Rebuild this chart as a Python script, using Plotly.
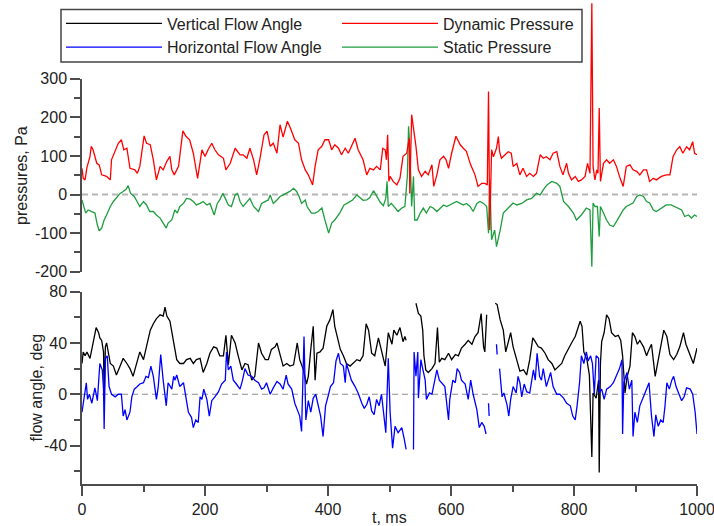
import plotly.graph_objects as go

# ---------------- data ----------------
t_dyn = [0, 2, 5, 8, 13, 15, 18, 21, 24, 28,
         32, 40, 46, 48, 54, 59, 64, 68, 73, 78,
         86, 90, 94, 101, 105, 111, 116, 121, 127, 132,
         138, 143, 146, 150, 157, 164, 169, 175, 181, 188,
         195, 200, 205, 211, 216, 222, 230, 234, 241, 249,
         257, 262, 268, 273, 279, 284, 289, 296, 301, 306,
         311, 317, 322, 327, 334, 339, 346, 352, 357, 363,
         368, 375, 379, 384, 390, 395, 401, 406, 411, 417,
         422, 428, 433, 444, 449, 452, 457, 463, 468, 474,
         479, 485, 489, 493, 495, 497, 499, 501, 506, 512,
         517, 522, 528, 532, 533, 536, 539, 543, 547, 552,
         558, 563, 569, 572, 577, 582, 588, 592, 596, 601,
         608, 615, 620, 625, 632, 639, 644, 650, 655, 659,
         661, 663, 666, 669, 672, 674, 677, 679, 682, 688,
         693, 698, 701, 707, 712, 717, 723, 728, 734, 739,
         745, 750, 755, 761, 766, 772, 777, 782, 788, 791,
         796, 802, 807, 812, 818, 822, 826, 829, 831, 834,
         837, 839, 841, 843, 848, 853, 858, 864, 869, 875,
         880, 885, 891, 896, 902, 907, 913, 918, 923, 929,
         934, 942, 950, 956, 961, 967, 972, 977, 983, 988,
         993, 996, 1000]
p_dyn = [68, 42, 38, 70, 99, 125, 116, 99, 81, 77,
         51, 47, 38, 90, 116, 133, 142, 116, 120, 68,
         64, 55, 73, 152, 133, 129, 90, 38, 73, 64,
         86, 99, 64, 51, 73, 165, 151, 142, 107, 42,
         116, 99, 116, 133, 116, 103, 94, 64, 81, 120,
         103, 103, 94, 120, 90, 51, 90, 155, 164, 125,
         133, 107, 181, 149, 190, 172, 142, 133, 90, 64,
         51, 25, 73, 116, 125, 142, 142, 116, 129, 120,
         103, 120, 107, 146, 116, 107, 90, 51, 68, 64,
         73, 64, 120, 116, 90, 155, 34, 47, 34, 25,
         42, 99, 107, 146, 3, 207, 177, 125, 64, 47,
         60, 51, 77, 21, 51, 90, 99, 90, 68, 107,
         151, 129, 120, 112, 77, 51, 21, 29, 29, 25,
         267, -92, 116, 98, 111, 120, 150, 111, 94, 103,
         111, 107, 73, 81, 51, 68, 47, 55, 47, 55,
         103, 94, 98, 90, 107, 111, 73, 51, 81, 55,
         38, 47, 34, 38, 47, 81, 55, 496, 73, 38,
         64, 55, 224, 34, 81, 90, 81, 90, 73, 42,
         21, 73, 77, 64, 60, 51, 64, 64, 34, 42,
         38, 47, 51, 51, 98, 116, 124, 107, 124, 116,
         137, 107, 103]

t_sta = [0, 3, 6, 10, 16, 21, 25, 28, 32, 36,
         40, 46, 51, 56, 62, 67, 72, 75, 79, 85,
         90, 94, 100, 105, 110, 116, 121, 127, 132, 137,
         140, 146, 151, 155, 159, 165, 170, 176, 181, 186,
         192, 197, 203, 208, 215, 220, 224, 229, 233, 238,
         243, 249, 253, 257, 262, 268, 273, 279, 287, 292,
         298, 303, 306, 311, 317, 322, 327, 333, 338, 344,
         349, 353, 357, 363, 366, 373, 379, 384, 390, 395,
         401, 406, 411, 419, 426, 433, 440, 447, 452, 457,
         463, 468, 474, 479, 485, 490, 494, 496, 498, 503,
         509, 514, 520, 525, 529, 531, 533, 536, 539, 541,
         545, 550, 555, 560, 566, 571, 577, 582, 588, 593,
         598, 604, 609, 615, 620, 625, 631, 636, 642, 647,
         653, 658, 661, 663, 666, 671, 674, 680, 685, 693,
         701, 707, 715, 723, 731, 739, 745, 750, 756, 764,
         772, 777, 783, 791, 799, 804, 812, 820, 826, 829,
         831, 834, 838, 841, 843, 848, 853, 858, 864, 869,
         875, 880, 885, 891, 896, 902, 907, 913, 918, 923,
         929, 934, 942, 950, 958, 967, 975, 980, 986, 991,
         996, 1000]
p_sta = [-14, -35, -48, -40, -44, -48, -79, -94, -87, -66,
         -53, -31, -18, -7, 3, 8, 14, 23, 3, -5,
         -18, -31, -18, -27, -44, -44, -53, -61, -74, -87,
         -74, -66, -40, -48, -31, -23, -10, -12, -18, -27,
         -23, -18, -27, -23, -53, -23, -14, 3, -10, -27,
         -31, -1, 3, -18, -31, -18, -10, -31, -44, -23,
         -18, -14, -1, -23, -14, -5, -1, 3, 8, 16,
         8, -5, -23, -14, -31, -48, -48, -44, -35, -66,
         -100, -74, -66, -48, -27, -21, -14, -1, -8, -15,
         -14, -8, 10, -5, -20, -29, -10, 34, -31, -23,
         -35, -44, -35, -31, 47, 177, 125, -31, 47, -66,
         -66, -48, -35, -48, -31, -35, -44, -35, -27, -31,
         -27, -23, -18, -23, -27, -23, -31, -44, -23, -18,
         -23, -31, -100, 38, -117, -92, -135, -92, -48, -35,
         -22, -27, -23, -14, -10, 3, -1, 12, 25, 34,
         29, 21, -18, -31, -48, -66, -53, -35, -40, -187,
         -22, -31, -31, -109, -31, -48, -66, -79, -83, -70,
         -53, -40, -31, -27, -22, -5, -1, -5, -18, -22,
         -40, -44, -35, -27, -27, -35, -40, -57, -53, -61,
         -53, -57]

t_ver = [0, 2, 5, 8, 13, 18, 23, 27, 29, 32,
         35, 36, 38, 40, 43, 46, 51, 56, 62, 67,
         73, 78, 83, 89, 94, 100, 105, 111, 116, 121,
         127, 132, 135, 138, 143, 149, 154, 159, 165, 170,
         176, 181, 186, 192, 197, 203, 208, 214, 219, 224,
         230, 234, 238, 243, 249, 254, 260, 265, 270, 276,
         281, 287, 292, 298, 303, 308, 314, 317, 322, 327,
         333, 338, 344, 350, 354, 360, 365, 368, 372, 376,
         379, 382, 387, 392, 398, 403, 408, 411, 415, 420,
         425, 430, 436, 441, 447, 452, 457, 462, 466, 471,
         476, 482, 487, 493, 498, 504, 507, 512, 517, 522,
         525, 527, 535, 543, 547, 551, 554, 556, 559, 563,
         569, 574, 578, 581, 585, 590, 596, 601, 607, 612,
         617, 623, 628, 634, 639, 644, 649, 653, 655, 658,
         665, 672, 675, 680, 685, 689, 693, 697, 701, 707,
         712, 718, 723, 728, 733, 737, 742, 747, 753, 758,
         764, 769, 775, 780, 785, 791, 796, 802, 807, 810,
         813, 816, 821, 825, 829, 831, 836, 840, 841, 843,
         845, 849, 853, 857, 861, 867, 872, 876, 879, 883,
         886, 891, 895, 899, 903, 907, 913, 918, 922, 926,
         932, 937, 943, 946, 951, 956, 962, 967, 972, 978,
         982, 989, 994, 998, 1000]
a_ver = [24, 33, 30, 33, 28, 41, 52, 48, 44, 42,
         33, -3, 37, 40, 33, 24, 22, 15, 22, 28,
         24, 20, 14, 24, 33, 27, 37, 50, 55, 59,
         62, 61, 68, 61, 57, 42, 27, 24, 24, 27,
         28, 24, 27, 28, 17, 24, 32, 37, 36, 30,
         30, 46, 23, 46, 40, 30, 19, 24, 23, 11,
         14, 40, 32, 27, 27, 35, 37, 40, 30, 22,
         24, 22, 23, 40, 27, 19, 8, 14, 35, 53,
         11, 32, 33, 36, 53, 58, 66, 53, 45, 35,
         30, 24, 22, 24, 27, 26, 30, 55, 50, 32,
         30, 44, 35, 22, 48, 39, 50, 46, 52, 41,
         45, 42, None, 71, 63, 61, 50, 30, 19, 17,
         20, 24, 52, 25, 28, 27, 32, 27, 31, 30,
         36, 39, 42, 39, 45, 48, 63, 37, 33, 62,
         None, 71, 70, 58, 50, 33, 40, 48, 37, 27,
         18, 19, 15, 27, 44, 41, 37, 36, 32, 27,
         24, 19, 22, 24, 30, 36, 40, 45, 53, 57,
         53, 33, 27, 15, -49, 1, -3, 11, -61, 24,
         41, 48, 62, 59, 48, 45, 46, 42, 30, 1,
         13, 22, 48, 45, 39, 42, 37, 30, 35, 39,
         14, 27, 41, 50, 45, 31, 27, 31, 37, 48,
         39, 30, 24, 32, 36]

t_hor = [0, 2, 5, 7, 9, 12, 16, 18, 21, 25,
         29, 33, 35, 36, 38, 41, 44, 48, 54, 59,
         64, 67, 70, 73, 78, 81, 85, 90, 94, 100,
         104, 108, 112, 116, 121, 124, 128, 132, 137, 140,
         146, 149, 151, 154, 159, 165, 170, 173, 178, 181,
         185, 189, 192, 195, 198, 203, 207, 211, 216, 222,
         227, 233, 235, 238, 242, 246, 251, 257, 261, 265,
         270, 276, 281, 287, 292, 296, 300, 306, 311, 317,
         322, 327, 332, 335, 341, 346, 350, 354, 357, 361,
         364, 368, 372, 376, 380, 384, 388, 392, 396, 401,
         404, 409, 413, 417, 420, 425, 428, 430, 435, 438,
         444, 449, 455, 459, 463, 467, 471, 475, 479, 483,
         487, 491, 494, 498, 501, 505, 509, 514, 520, 524,
         527, 533, 539, 540, 543, 546, 547, 551, 554, 558,
         560, 565, 569, 573, 577, 581, 585, 590, 596, 598,
         603, 607, 610, 614, 617, 623, 628, 632, 636, 642,
         646, 650, 654, 657, 659, 661, 662, 668, 674, 675,
         677, 679, 683, 686, 691, 694, 697, 701, 706, 709,
         712, 715, 719, 723, 728, 734, 737, 740, 744, 747,
         750, 755, 758, 762, 766, 772, 777, 783, 788, 794,
         798, 802, 805, 809, 812, 816, 820, 823, 827, 830,
         833, 836, 840, 841, 845, 849, 853, 859, 864, 869,
         874, 878, 879, 881, 886, 890, 894, 896, 899, 903,
         907, 913, 918, 922, 926, 930, 933, 937, 941, 945,
         948, 951, 955, 959, 962, 966, 970, 975, 979, 983,
         989, 993, 997, 1000]
a_hor = [-14, -7, 1, 9, -4, 0, -7, -2, 5, -5,
         24, 19, 4, -27, 28, 30, 6, 0, -2, 0,
         0, -17, -12, -20, -14, -2, 4, 6, 8, 9,
         14, 13, 22, 14, -4, 6, 31, 11, -9, 9,
         4, 14, 11, 15, 6, 9, -7, -14, -18, -26,
         -20, -22, -2, -4, 4, -4, -17, -5, -2, 2,
         8, 11, 33, 19, 22, 11, 8, 4, 11, 20,
         15, 14, 11, 9, 4, 5, 9, 0, 5, 10,
         8, 4, 15, 8, 4, -7, -12, -17, -29, 45,
         -20, -5, -14, -3, 0, -9, -17, -33, -9, 0,
         6, 9, 26, 32, 24, 22, 9, 24, 17, 11,
         6, 1, -7, -11, -8, -2, -13, -16, -4, -9,
         0, -17, -30, 28, -14, -42, -25, -30, -26, -35,
         -43, None, -43, 33, 14, 33, -3, 27, 20, 11,
         -4, 1, 0, 11, 19, 11, 9, 6, -20, -4,
         11, 9, 20, 17, 11, 8, -4, 11, 0, -12,
         -26, -22, -25, -31, None, -7, -17, None, 39, 31,
         None, 20, -2, 1, -8, -17, -4, 6, 1, 14,
         9, -2, 8, 2, 1, 19, 11, 32, 14, 11,
         20, 6, 10, 17, 6, 0, 0, -3, -7, -9,
         -17, -20, -9, 9, 30, 24, 33, 26, 30, 24,
         0, 30, 28, 1, 4, -4, 4, 6, 9, 14,
         20, 27, -31, 9, 17, 4, 11, -33, -14, -22,
         -9, -2, 4, 9, -17, -33, -16, -25, -20, -22,
         -9, 9, 4, 11, 14, 6, 1, -5, -2, 5,
         4, 0, -14, -31]

p_tickvals = [300, 200, 100, 0, -100, -200]
p_ticktext = ["300", "200", "100", "0", "-100", "-200"]
a_tickvals = [80, 40, 0, -40]
a_ticktext = ["80", "40", "0", "-40"]
t_tickvals = [0, 200, 400, 600, 800, 1000]
t_ticktext = ["0", "200", "400", "600", "800", "1000"]

for a, b in [(t_dyn, p_dyn), (t_sta, p_sta), (t_ver, a_ver), (t_hor, a_hor)]:
    assert len(a) == len(b), (len(a), len(b))

# ---------------- layout geometry ----------------
W, H = 714, 526
ML, MR, MT, MB = 82, 17, 0, 42
PW, PH = W - ML - MR, H - MT - MB


def pxx(p):
    return (p - ML) / PW


def pyy(p):
    return (MT + PH - p) / PH


top_dom = [pyy(271.7), pyy(78.8)]
bot_dom = [0, pyy(291.7)]
p_range = [-200, 300]
a_range = [-70, 80]
# extended (invisible) axis with the same scale, so spikes can run above the panel
p_ext_top = p_range[0] + (p_range[1] - p_range[0]) * (1 - top_dom[0]) / (top_dom[1] - top_dom[0])

FONT = "Liberation Sans, Arial, sans-serif"
AX = "#4d4d4d"
TXT = "#222222"

fig = go.Figure()
fig.add_trace(go.Scatter(x=t_ver, y=a_ver, mode="lines", name="Vertical Flow Angle",
                         line=dict(color="#000000", width=1.3), xaxis="x", yaxis="y",
                         legend="legend", legendrank=1))
fig.add_trace(go.Scatter(x=t_hor, y=a_hor, mode="lines", name="Horizontal Flow Angle",
                         line=dict(color="#0000ff", width=1.3), xaxis="x", yaxis="y",
                         legend="legend", legendrank=2))
fig.add_trace(go.Scatter(x=t_sta, y=p_sta, mode="lines", name="Static Pressure",
                         line=dict(color="#1e9e3e", width=1.3), xaxis="x2", yaxis="y2",
                         legend="legend2", legendrank=2))
fig.add_trace(go.Scatter(x=t_dyn, y=p_dyn, mode="lines", name="Dynamic Pressure",
                         line=dict(color="#ff0000", width=1.3), xaxis="x2", yaxis="y3",
                         legend="legend2", legendrank=1))

common_y = dict(showline=True, linecolor=AX, linewidth=1.5, ticks="outside", ticklen=10,
                tickwidth=1.5, tickcolor=AX, showgrid=False, zeroline=False,
                tickfont=dict(size=16, color=TXT), tickmode="array")

fig.update_layout(
    width=W, height=H, margin=dict(l=ML, r=MR, t=MT, b=MB, autoexpand=False),
    paper_bgcolor="white", plot_bgcolor="rgba(0,0,0,0)",
    font=dict(family=FONT, size=16, color=TXT),
    xaxis=dict(domain=[0, 1], range=[0, 1000], anchor="y", showline=True, linecolor=AX,
               linewidth=1.5, ticks="outside", ticklen=10, tickwidth=1.5, tickcolor=AX,
               tickmode="array", tickvals=t_tickvals, ticktext=t_ticktext, tickangle=0,
               ticklabeloverflow="allow",
               minor=dict(dtick=100, tick0=0, ticks="outside", ticklen=6, tickwidth=1.5, tickcolor=AX),
               showgrid=False, zeroline=False, tickfont=dict(size=16, color=TXT)),
    xaxis2=dict(domain=[0, 1], range=[0, 1000], anchor="y2", visible=False),
    yaxis=dict(domain=bot_dom, range=a_range, anchor="x", tickvals=a_tickvals, ticktext=a_ticktext,
               minor=dict(dtick=20, tick0=0, ticks="outside", ticklen=6, tickwidth=1.5, tickcolor=AX),
               **common_y),
    yaxis2=dict(domain=top_dom, range=p_range, anchor="x2", tickvals=p_tickvals, ticktext=p_ticktext,
                minor=dict(dtick=50, tick0=0, ticks="outside", ticklen=6, tickwidth=1.5, tickcolor=AX),
                **common_y),
    yaxis3=dict(domain=[top_dom[0], 1], range=[p_range[0], p_ext_top], anchor="x2", visible=False),
    legend=dict(xref="container", yref="container", x=61 / W, y=1 - 6.5 / H,
                xanchor="left", yanchor="top", bgcolor="rgba(0,0,0,0)", borderwidth=0,
                itemwidth=96, font=dict(size=16, color=TXT), orientation="v"),
    legend2=dict(xref="container", yref="container", x=337 / W, y=1 - 6.5 / H,
                 xanchor="left", yanchor="top", bgcolor="rgba(0,0,0,0)", borderwidth=0,
                 itemwidth=96, font=dict(size=16, color=TXT), orientation="v"),
    showlegend=True,
)

# zero reference lines
fig.add_shape(type="line", xref="x2 domain", yref="y2", x0=0, x1=1, y0=0, y1=0,
              line=dict(color="#b5b5b5", width=2, dash="6px,4px"), layer="below")
fig.add_shape(type="line", xref="x domain", yref="y", x0=0, x1=1, y0=0, y1=0,
              line=dict(color="#8c8c8c", width=1, dash="6px,4px"), layer="below")
# legend frame
fig.add_shape(type="rect", xref="paper", yref="paper", x0=pxx(61), x1=pxx(582), y0=pyy(62), y1=pyy(9.5),
              line=dict(color="#444", width=1.5), fillcolor="rgba(0,0,0,0)", layer="above")
# axis titles
fig.add_annotation(text="t, ms", xref="paper", yref="paper", x=0.5, y=pyy(517),
                   xanchor="center", yanchor="middle", showarrow=False,
                   font=dict(size=16, color=TXT))
fig.add_annotation(text="pressures, Pa", xref="paper", yref="paper", x=pxx(21.7),
                   y=(top_dom[0] + top_dom[1]) / 2, xanchor="center", yanchor="middle",
                   textangle=-90, showarrow=False, font=dict(size=16, color=TXT))
fig.add_annotation(text="flow angle, deg", xref="paper", yref="paper", x=pxx(36.7),
                   y=(bot_dom[0] + bot_dom[1]) / 2, xanchor="center", yanchor="middle",
                   textangle=-90, showarrow=False, font=dict(size=16, color=TXT))

fig.write_html("out.html")
